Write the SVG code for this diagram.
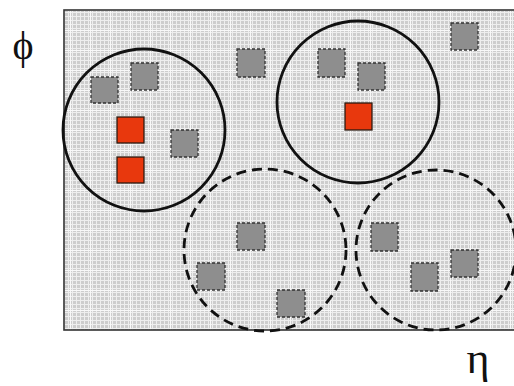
<svg xmlns="http://www.w3.org/2000/svg" width="514" height="386" viewBox="0 0 514 386">
<defs>
<pattern id="grid" width="4" height="4" patternUnits="userSpaceOnUse">
<rect width="4" height="4" fill="#cdcdcd"/>
<path d="M0 0.5H4M0.5 0V4" stroke="#eeeeee" stroke-width="1"/>
</pattern>
<pattern id="grid2" width="20" height="20" patternUnits="userSpaceOnUse">
<rect width="20" height="20" fill="url(#grid)"/>
<path d="M0 10.5H20M10.5 0V20" stroke="#f8f8f8" stroke-width="1"/>
</pattern>
</defs>
<style>
.cell{fill:#8e8e8e;stroke:#333;stroke-width:1.3;stroke-dasharray:3 2}
.hot{fill:#e8380d;stroke:#2a1a10;stroke-width:1.3}
.jet{fill:none;stroke:#111;stroke-width:2.8}
.dash{stroke-dasharray:10 6}
.lbl{font-family:"Liberation Serif","DejaVu Serif",serif;fill:#111}
</style>
<rect id="plane" x="64" y="10" width="460" height="320" fill="url(#grid2)" stroke="#333" stroke-width="1.6"/>
<g id="cells">
<rect class="cell" x="91" y="77" width="27" height="26"/>
<rect class="cell" x="131" y="63" width="27" height="27"/>
<rect class="cell" x="171" y="130" width="27" height="27"/>
<rect class="cell" x="237" y="49" width="28" height="28"/>
<rect class="cell" x="318" y="49" width="27" height="28"/>
<rect class="cell" x="358" y="63" width="27" height="27"/>
<rect class="cell" x="451" y="23" width="27" height="27"/>
<rect class="cell" x="237" y="223" width="28" height="27"/>
<rect class="cell" x="197" y="263" width="28" height="27"/>
<rect class="cell" x="277" y="290" width="28" height="27"/>
<rect class="cell" x="371" y="223" width="27" height="28"/>
<rect class="cell" x="411" y="263" width="27" height="28"/>
<rect class="cell" x="451" y="250" width="27" height="27"/>
</g>
<g id="hot">
<rect class="hot" x="117" y="117" width="27" height="26"/>
<rect class="hot" x="117" y="157" width="27" height="26"/>
<rect class="hot" x="345" y="103" width="27" height="27"/>
</g>
<g id="connectors">
<circle id="jet1" class="jet" cx="144" cy="130" r="81"/>
<circle id="jet2" class="jet" cx="358" cy="102" r="81"/>
<circle id="jet3" class="jet dash" cx="265" cy="250" r="81"/>
<circle id="jet4" class="jet dash" cx="436" cy="250" r="80"/>
</g>
<text class="lbl" x="23" y="59" font-size="40" text-anchor="middle">ϕ</text>
<text class="lbl" x="478" y="373" font-size="44" text-anchor="middle">η</text>
</svg>
